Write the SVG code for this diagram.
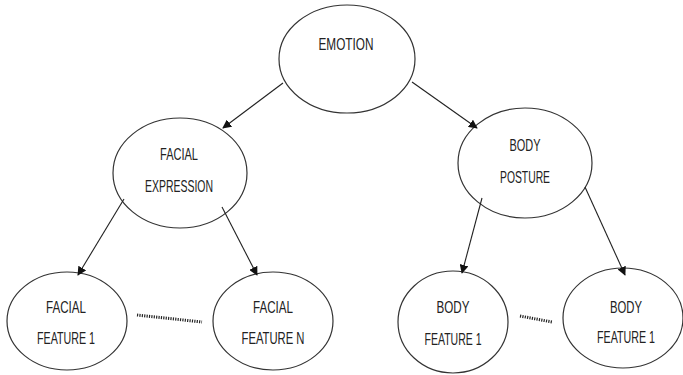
<svg xmlns="http://www.w3.org/2000/svg" width="683" height="375" viewBox="0 0 683 375">
<defs>
<style>
.n ellipse{fill:#fff;stroke:#333;stroke-width:1.2}
.n text{font-family:"Liberation Sans",Arial,sans-serif;font-size:17px;fill:#222;text-anchor:middle}
.c line{stroke:#222;stroke-width:1.1}
.c .arr{marker-end:url(#ah)}
.c .dot{stroke:#222;stroke-width:3;stroke-dasharray:1.2 1.2}
</style>
<marker id="ah" viewBox="0 0 10 10" refX="9" refY="5" markerWidth="9" markerHeight="9" markerUnits="userSpaceOnUse" orient="auto">
<path d="M0,0 L10,5 L0,10 z" fill="#111"/>
</marker>
</defs>
<rect width="683" height="375" fill="#fff"/>
<g class="n" id="emotion">
<ellipse cx="347" cy="59" rx="68" ry="54"/>
<text x="346" y="50" textLength="55" lengthAdjust="spacingAndGlyphs">EMOTION</text>
</g>
<g class="n" id="facial-expression">
<ellipse cx="180" cy="173" rx="67" ry="55"/>
<text x="179" y="160" textLength="38" lengthAdjust="spacingAndGlyphs">FACIAL</text>
<text x="179" y="192" textLength="68" lengthAdjust="spacingAndGlyphs">EXPRESSION</text>
</g>
<g class="n" id="body-posture">
<ellipse cx="525" cy="163" rx="67" ry="55"/>
<text x="525" y="151" textLength="31" lengthAdjust="spacingAndGlyphs">BODY</text>
<text x="525" y="183" textLength="50" lengthAdjust="spacingAndGlyphs">POSTURE</text>
</g>
<g class="n" id="facial-feature-1">
<ellipse cx="67" cy="321" rx="60" ry="49"/>
<text x="66" y="313" textLength="40" lengthAdjust="spacingAndGlyphs">FACIAL</text>
<text x="66" y="344" textLength="58" lengthAdjust="spacingAndGlyphs">FEATURE 1</text>
</g>
<g class="n" id="facial-feature-n">
<ellipse cx="273" cy="321" rx="60" ry="49"/>
<text x="273" y="313" textLength="40" lengthAdjust="spacingAndGlyphs">FACIAL</text>
<text x="273" y="344" textLength="63" lengthAdjust="spacingAndGlyphs">FEATURE  N</text>
</g>
<g class="n" id="body-feature-1a">
<ellipse cx="453" cy="322" rx="55" ry="51"/>
<text x="453" y="313" textLength="33" lengthAdjust="spacingAndGlyphs">BODY</text>
<text x="453" y="345" textLength="57" lengthAdjust="spacingAndGlyphs">FEATURE 1</text>
</g>
<g class="n" id="body-feature-1b">
<ellipse cx="623" cy="318" rx="60" ry="50"/>
<text x="626" y="313" textLength="32" lengthAdjust="spacingAndGlyphs">BODY</text>
<text x="626" y="343" textLength="58" lengthAdjust="spacingAndGlyphs">FEATURE 1</text>
</g>
<g class="c" id="connectors">
<line class="arr" x1="283" y1="83" x2="223" y2="128"/>
<line class="arr" x1="412" y1="82" x2="477" y2="128"/>
<line class="arr" x1="124" y1="199" x2="78" y2="275"/>
<line class="arr" x1="222" y1="207" x2="257" y2="275"/>
<line class="arr" x1="482" y1="198" x2="462" y2="273"/>
<line class="arr" x1="585" y1="187" x2="625" y2="275"/>
<line class="dot" x1="137" y1="315" x2="202" y2="322"/>
<line class="dot" x1="520" y1="316" x2="552" y2="322"/>
</g>
</svg>
